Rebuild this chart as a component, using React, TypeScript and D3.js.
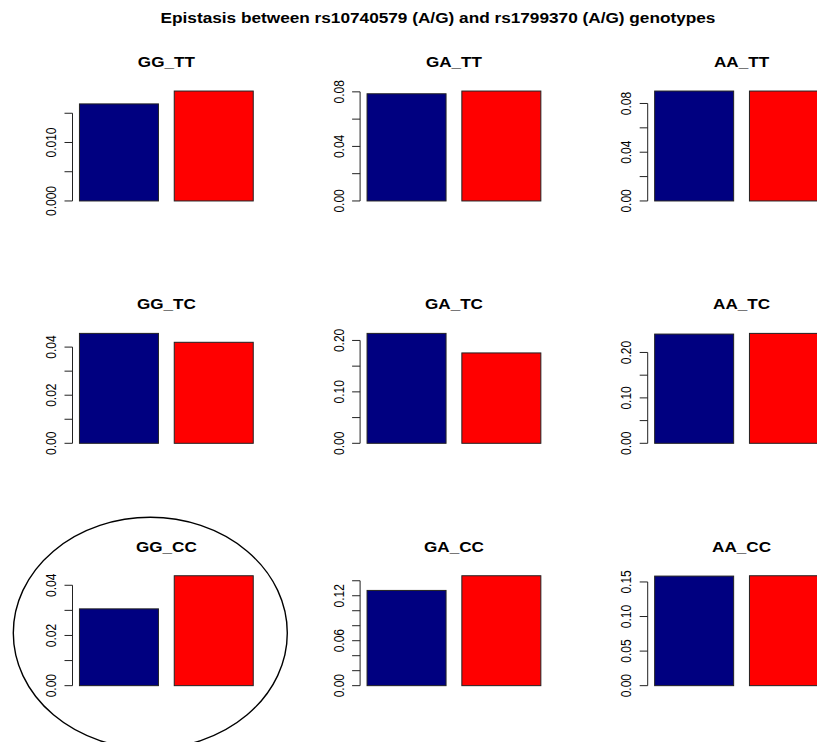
import React from "react";
import * as d3 from "d3";

const mainTitle = "Epistasis between rs10740579 (A/G) and rs1799370 (A/G) genotypes";
const panelTitles = ["GG_TT", "GA_TT", "AA_TT", "GG_TC", "GA_TC", "AA_TC", "GG_CC", "GA_CC", "AA_CC"];
const blueValues = [0.0166, 0.0786, 0.0902, 0.0457, 0.2137, 0.2405, 0.0306, 0.1271, 0.1585];
const redValues = [0.0188, 0.0806, 0.0902, 0.0420, 0.1757, 0.2420, 0.0438, 0.1467, 0.1590];
const tickValues: number[][] = [
  [0, 0.005, 0.01, 0.015],
  [0, 0.02, 0.04, 0.06, 0.08],
  [0, 0.02, 0.04, 0.06, 0.08],
  [0, 0.01, 0.02, 0.03, 0.04],
  [0, 0.05, 0.1, 0.15, 0.2],
  [0, 0.05, 0.1, 0.15, 0.2],
  [0, 0.01, 0.02, 0.03, 0.04],
  [0, 0.02, 0.04, 0.06, 0.08, 0.1, 0.12, 0.14],
  [0, 0.05, 0.1, 0.15],
];
const tickLabels: string[][] = [
  ["0.000", "", "0.010", ""],
  ["0.00", "", "0.04", "", "0.08"],
  ["0.00", "", "0.04", "", "0.08"],
  ["0.00", "", "0.02", "", "0.04"],
  ["0.00", "", "0.10", "", "0.20"],
  ["0.00", "", "0.10", "", "0.20"],
  ["0.00", "", "0.02", "", "0.04"],
  ["0.00", "", "", "0.06", "", "", "0.12", ""],
  ["0.00", "0.05", "0.10", "0.15"],
];
const barColors = ["#000080", "#FF0000"];

const W = 817;
const H = 742;
const SX = 1.18; // horizontal stretch of the reference image
const FONT = "'Liberation Sans', Arial, Helvetica, sans-serif";

const plotLeft0 = 72.5;
const colStep = 287.6;
const plotTop0 = 86.6;
const rowStep = 242.35;
const plotW = 187.7;
const plotH = 119.9;

export default function App() {
  const panels = panelTitles.map((title, i) => {
    const col = i % 3;
    const row = Math.floor(i / 3);
    const left = plotLeft0 + col * colStep;
    const top = plotTop0 + row * rowStep;
    const vals = [blueValues[i], redValues[i]];
    const M = d3.max(vals) as number;
    // R barplot: xlim [0.2, 2.4], ylim [-0.01M, M], each extended 4%
    const xr = [0.2, 2.4];
    const xe = (xr[1] - xr[0]) * 0.04;
    const x = d3.scaleLinear().domain([xr[0] - xe, xr[1] + xe]).range([left, left + plotW]);
    const yr = [-0.01 * M, M];
    const ye = (yr[1] - yr[0]) * 0.04;
    const y = d3.scaleLinear().domain([yr[0] - ye, yr[1] + ye]).range([top + plotH, top]);
    const ticks = tickValues[i];
    const labels = tickLabels[i];
    const cx = left + plotW / 2;
    return (
      <g key={title}>
        <text
          transform={`translate(${cx},${top - 19.6}) scale(${SX},1)`}
          textAnchor="middle"
          fontFamily={FONT}
          fontWeight="bold"
          fontSize={14.5}
          fill="#000"
        >
          {title}
        </text>
        {vals.map((v, j) => {
          const x0 = x(0.2 + j * 1.2);
          const x1 = x(1.2 + j * 1.2);
          return (
            <rect
              key={j}
              x={x0}
              y={y(v)}
              width={x1 - x0}
              height={y(0) - y(v)}
              fill={barColors[j]}
              stroke="#222"
              strokeWidth={1}
            />
          );
        })}
        <line
          x1={left}
          x2={left}
          y1={y(ticks[0])}
          y2={y(ticks[ticks.length - 1])}
          stroke="#222"
          strokeWidth={1}
        />
        {ticks.map((t, k) => (
          <g key={k}>
            <line x1={left - 8} x2={left} y1={y(t)} y2={y(t)} stroke="#222" strokeWidth={1} />
            {labels[k] ? (
              <text
                transform={`translate(${left - 16.5},${y(t)}) scale(${SX},1) rotate(-90)`}
                textAnchor="middle"
                fontFamily={FONT}
                fontSize={12}
                fill="#000"
              >
                {labels[k]}
              </text>
            ) : null}
          </g>
        ))}
      </g>
    );
  });

  return (
    <svg
      width={W}
      height={H}
      style={{ position: "absolute", left: 0, top: 0, background: "#fff" }}
    >
      <rect x={0} y={0} width={W} height={H} fill="#fff" />
      <text
        transform={`translate(${438},${23}) scale(${SX},1)`}
        textAnchor="middle"
        fontFamily={FONT}
        fontWeight="bold"
        fontSize={14.6}
        fill="#000"
      >
        {mainTitle}
      </text>
      {panels}
      <ellipse cx={150.3} cy={633} rx={137} ry={115.7} fill="none" stroke="#000" strokeWidth={1.4} />
    </svg>
  );
}
